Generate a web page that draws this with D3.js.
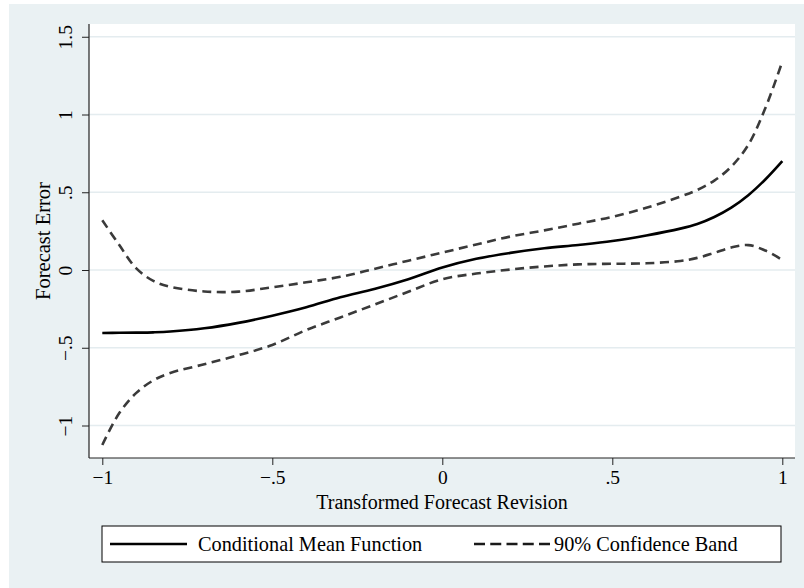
<!DOCTYPE html>
<html>
<head>
<meta charset="utf-8">
<script src="https://cdn.jsdelivr.net/npm/d3@7"></script>
<style>
  html, body { margin: 0; padding: 0; background: #ffffff; }
  svg { display: block; }
  text { font-family: "Liberation Serif", "Times New Roman", serif; fill: #000; }
</style>
</head>
<body>
<svg id="chart" width="804" height="588"></svg>
<script>
// ---- Data ----
const xValues = [-1, -0.95, -0.9, -0.85, -0.8, -0.7, -0.6, -0.5, -0.4, -0.3, -0.2, -0.1, 0,
                 0.1, 0.2, 0.3, 0.4, 0.5, 0.6, 0.7, 0.75, 0.8, 0.85, 0.9, 0.95, 1];
const meanValues = [-0.405, -0.404, -0.403, -0.401, -0.396, -0.375, -0.34, -0.294, -0.24, -0.175, -0.122, -0.059, 0.016,
                    0.072, 0.11, 0.14, 0.161, 0.186, 0.222, 0.266, 0.296, 0.341, 0.401, 0.481, 0.582, 0.70];
const upperValues = [0.32, 0.16, 0.01, -0.07, -0.108, -0.138, -0.139, -0.111, -0.079, -0.044, 0.007, 0.06, 0.112,
                     0.164, 0.215, 0.255, 0.298, 0.342, 0.40, 0.472, 0.515, 0.575, 0.665, 0.805, 1.04, 1.34];
const lowerValues = [-1.125, -0.92, -0.79, -0.71, -0.662, -0.606, -0.548, -0.482, -0.386, -0.305, -0.223, -0.14, -0.059,
                     -0.023, 0.003, 0.023, 0.036, 0.04, 0.043, 0.058, 0.078, 0.11, 0.145, 0.16, 0.125, 0.065];
const xTicks = [-1, -0.5, 0, 0.5, 1];
const xTickLabels = ["\u22121", "\u2212.5", "0", ".5", "1"];
const yTicks = [-1, -0.5, 0, 0.5, 1, 1.5];
const yTickLabels = ["\u22121", "\u2212.5", "0", ".5", "1", "1.5"];
const xTitle = "Transformed Forecast Revision";
const yTitle = "Forecast Error";
const legendLabels = ["Conditional Mean Function", "90% Confidence Band"];

// ---- Layout ----
const svg = d3.select("#chart");
const plot = { left: 89, right: 795, top: 24, bottom: 458 };

svg.append("rect").attr("x", 9).attr("y", 4).attr("width", 795).attr("height", 584).attr("fill", "#eaf1f3");
svg.append("rect").attr("x", plot.left).attr("y", plot.top)
  .attr("width", plot.right - plot.left).attr("height", plot.bottom - plot.top).attr("fill", "#ffffff");

const x = d3.scaleLinear().domain([-1, 1]).range([102.3, 782.3]);
const y = d3.scaleLinear().domain([-1, 1.5]).range([425.5, 36.75]);

// gridlines
svg.append("g").selectAll("line").data(yTicks).join("line")
  .attr("x1", plot.left).attr("x2", plot.right)
  .attr("y1", d => y(d)).attr("y2", d => y(d))
  .attr("stroke", "#e4ecef").attr("stroke-width", 1.5);

// axes
const xAxis = d3.axisBottom(x).tickValues(xTicks).tickFormat((d, i) => xTickLabels[i]).tickSize(7);
const gx = svg.append("g").attr("transform", `translate(0,${plot.bottom})`).call(xAxis);
gx.select(".domain").remove();
gx.selectAll(".tick line").attr("stroke", "#222").attr("stroke-width", 1);
gx.selectAll(".tick text").attr("font-size", 19.5).attr("fill", "#000")
  .attr("y", 25.5).attr("dy", 0);

const yAxis = d3.axisLeft(y).tickValues(yTicks).tickFormat((d, i) => yTickLabels[i]).tickSize(7);
const gy = svg.append("g").attr("transform", `translate(${plot.left},0)`).call(yAxis);
gy.select(".domain").remove();
gy.selectAll(".tick line").attr("stroke", "#222").attr("stroke-width", 1);
gy.selectAll(".tick text").attr("font-size", 19.5).attr("fill", "#000")
  .attr("transform", "translate(-17,0) rotate(-90)").attr("x", 0).attr("y", 0).attr("dy", 0)
  .attr("text-anchor", "middle");

svg.append("line").attr("x1", plot.left).attr("x2", plot.left).attr("y1", plot.top).attr("y2", plot.bottom)
  .attr("stroke", "#222").attr("stroke-width", 1.2);
svg.append("line").attr("x1", plot.left).attr("x2", plot.right).attr("y1", plot.bottom).attr("y2", plot.bottom)
  .attr("stroke", "#222").attr("stroke-width", 1.2);

// titles
svg.append("text").attr("x", 442).attr("y", 509).attr("text-anchor", "middle")
  .attr("font-size", 20).text(xTitle);
svg.append("text").attr("transform", "translate(50,241) rotate(-90)").attr("text-anchor", "middle")
  .attr("font-size", 20.5).text(yTitle);

// lines
const line = d3.line().x((d, i) => x(xValues[i])).y(d => y(d)).curve(d3.curveCatmullRom.alpha(0.5));
svg.append("path").datum(upperValues).attr("d", line).attr("fill", "none")
  .attr("stroke", "#3a3a3a").attr("stroke-width", 2.6).attr("stroke-dasharray", "9,5.5");
svg.append("path").datum(lowerValues).attr("d", line).attr("fill", "none")
  .attr("stroke", "#3a3a3a").attr("stroke-width", 2.6).attr("stroke-dasharray", "9,5.5");
svg.append("path").datum(meanValues).attr("d", line).attr("fill", "none")
  .attr("stroke", "#000").attr("stroke-width", 2.6);

// legend
const lg = svg.append("g");
lg.append("rect").attr("x", 102).attr("y", 526).attr("width", 679).attr("height", 36)
  .attr("fill", "#fff").attr("stroke", "#000").attr("stroke-width", 1);
lg.append("line").attr("x1", 110).attr("x2", 187).attr("y1", 544).attr("y2", 544)
  .attr("stroke", "#000").attr("stroke-width", 2.6);
lg.append("text").attr("x", 198).attr("y", 551).attr("font-size", 20.3).text(legendLabels[0]);
lg.append("line").attr("x1", 474).attr("x2", 550).attr("y1", 544).attr("y2", 544)
  .attr("stroke", "#1a1a1a").attr("stroke-width", 2.6).attr("stroke-dasharray", "11,5.25");
lg.append("text").attr("x", 554).attr("y", 551).attr("font-size", 20.3).text(legendLabels[1]);
</script>
</body>
</html>
